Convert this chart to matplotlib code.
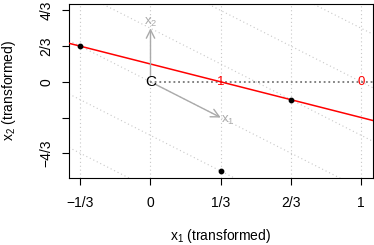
import matplotlib
matplotlib.use('Agg')
import matplotlib.pyplot as plt
import numpy as np

plt.rcParams['font.family'] = ['Liberation Sans', 'DejaVu Sans']

# data
pts_x = [-1/3, 2/3, 1/3]
pts_y = [2/3, -1/3, -5/3]
line_a, line_b = 1/3, -1          # red line y = a + b*x
diag_c = [-2, -1, 0, 1, 2, 3]     # dotted lines y = c - 2x
grid_x = [-1/3, 0, 1/3, 2/3, 1]
xtick_vals = [-1/3, 0, 1/3, 2/3, 1]
xtick_labs = ['\u22121/3', '0', '1/3', '2/3', '1']
ytick_vals = [-4/3, -2/3, 0, 2/3, 4/3]
ytick_labs = ['\u22124/3', '', '0', '2/3', '4/3']
red_lab_x = [1/3, 1]
red_lab = ['1', '0']

fig = plt.figure(figsize=(3.74, 2.45), dpi=100)
ax = fig.add_axes([0.1845, 0.2755, 0.8115, 0.708])
xlim = (-1/3 - 0.04*4/3, 1 + 0.04*4/3)
ylim = (-5/3 - 0.04*3, 4/3 + 0.04*3)

xx = np.array(xlim)
for gx in grid_x:
    ax.axvline(gx, color='#c8c8c8', lw=0.8, ls=(0, (1, 2.5)), zorder=1)
for c in diag_c:
    ax.plot(xx, c - 2*xx, color='#c8c8c8', lw=0.8, ls=(0, (1, 2.5)), zorder=1)

ax.plot([0, 1.2], [0, 0], color='#777777', lw=1.3, ls=(0, (1, 1.6)), zorder=2)

ax.plot(xx, line_a + line_b*xx, color='red', lw=1.1, zorder=3)

for lx, lt in zip(red_lab_x, red_lab):
    ax.text(lx, 0, lt, color='red', fontsize=9.5, ha='center', va='center', zorder=4)

ax.text(0, 0, 'C', fontsize=11, ha='center', va='center', zorder=4)

ap = dict(arrowstyle='->,head_length=0.6,head_width=0.3', color='#aaaaaa', lw=1.0,
          shrinkA=0, shrinkB=0)
ax.annotate('', xy=(0, 1), xytext=(0, 0.11), arrowprops=ap, zorder=3)
ax.annotate('', xy=(1/3, -2/3), xytext=(0.02, -0.04), arrowprops=ap, zorder=3)
ax.text(0, 1.11, r'$\mathregular{x_2}$', color='#aaaaaa', fontsize=9.5, ha='center', va='center')
ax.text(0.335, -0.72, r'$\mathregular{x_1}$', color='#aaaaaa', fontsize=9.5, ha='left', va='center')

ax.scatter(pts_x, pts_y, s=10, color='black', zorder=5)

ax.set_xlim(xlim)
ax.set_ylim(ylim)
ax.set_xticks(xtick_vals)
ax.set_xticklabels(xtick_labs)
ax.set_yticks(ytick_vals)
ax.set_yticklabels(ytick_labs, rotation=90, va='center')
ax.tick_params(direction='out', length=5, width=0.8, labelsize=10)
ax.tick_params(axis='x', pad=8.2)
ax.tick_params(axis='y', pad=6)
for s in ax.spines.values():
    s.set_linewidth(0.8)

ax.set_xlabel(r'$\mathregular{x_1}$ (transformed)', fontsize=10, labelpad=12.5)
ax.set_ylabel(r'$\mathregular{x_2}$ (transformed)', fontsize=10, labelpad=16)

fig.savefig('out.png', dpi=100)
